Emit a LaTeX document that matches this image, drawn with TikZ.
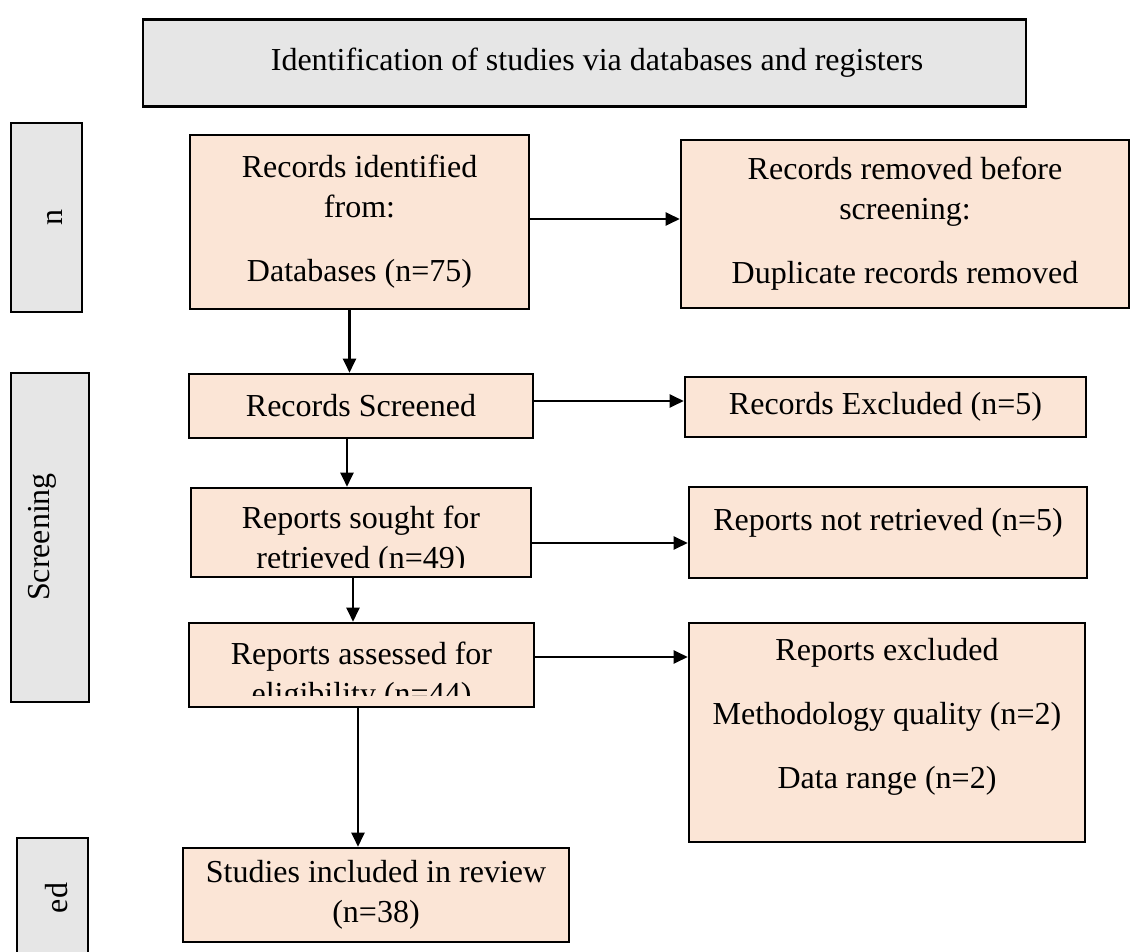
\documentclass[tikz,border=0pt]{standalone}
\usepackage{fontspec}
\setmainfont{Liberation Serif}
\usetikzlibrary{arrows.meta,positioning,calc}

\definecolor{peach}{HTML}{FBE5D6}
\definecolor{sidegrey}{HTML}{E6E6E6}
\newcommand{\prismafont}{\fontsize{16pt}{20pt}\selectfont}
\tikzset{
  box/.style={draw,line width=1.3pt,fill=peach,inner sep=0pt,align=center,font=\prismafont},
  sidebar/.style={draw,line width=1.3pt,fill=sidegrey,inner sep=0pt},
  txt/.style={inner sep=0pt,align=center,font=\prismafont},
  flow/.style={-{Triangle[length=7pt,width=6.5pt]},line width=1.2pt},
}

\begin{document}
\begin{tikzpicture}[x=0.5pt,y=-0.5pt]
\useasboundingbox (0,0) rectangle (1136,952);
% header
\node[sidebar,minimum width=441.5pt,minimum height=43.5pt] (title) at (584.5,63) {};
\node[txt] (titletxt) at (597,63) {Identification of studies via databases and registers};
% side bars
\node[sidebar,minimum width=35.5pt,minimum height=94.5pt] (idbar) at (46.5,217.5) {};
\node[txt,rotate=90] (idbartxt) at (55,218) {n};
\node[sidebar,minimum width=39pt,minimum height=164.5pt] (scbar) at (50,537.5) {};
\node[txt,rotate=90] (scbartxt) at (42,537) {Screening};
\node[sidebar,minimum width=35.5pt,minimum height=70pt] (inbar) at (52.5,908) {};
\node[txt,rotate=90] (inbartxt) at (57,898) {ed};
% main column
\node[box,minimum width=169.5pt,minimum height=87pt] (ident) at (359.5,222)
  {Records identified\\from:\\[12pt]Databases (n=75)};
\node[box,minimum width=172pt,minimum height=32pt] (screened) at (361,406) {Records Screened};
\node[box,minimum width=170pt,minimum height=44.5pt] (sought) at (361,532.5) {};
\begin{scope}
  \clip (191,488) rectangle (531,567);
  \node[txt] (soughttxt) at (361,540.5) {Reports sought for\\retrieved (n=49)};
\end{scope}
\node[box,minimum width=172.5pt,minimum height=42pt] (assessed) at (361.5,665) {};
\begin{scope}
  \clip (189,623) rectangle (534,695);
  \node[txt] (assessedtxt) at (361.5,676.5) {Reports assessed for\\eligibility (n=44)};
\end{scope}
\node[box,minimum width=193pt,minimum height=47pt] (studies) at (376,895)
  {Studies included in review\\(n=38)};
% right column
\node[box,minimum width=224pt,minimum height=84pt] (removed) at (905,224)
  {Records removed before\\screening:\\[12pt]Duplicate records removed};
\node[box,minimum width=200.5pt,minimum height=30pt] (recexcl) at (885.5,407) {Records Excluded (n=5)};
\node[box,minimum width=199pt,minimum height=45.5pt] (notret) at (888,532.5) {};
\node[txt] (notrettxt) at (888,523) {Reports not retrieved (n=5)};
\node[box,minimum width=198pt,minimum height=109.5pt] (repexcl) at (887,732.5) {};
\node[txt] (repexcltxt) at (887,716.5)
  {Reports excluded\\[12pt]Methodology quality (n=2)\\[12pt]Data range (n=2)};
% arrows
\draw[flow] ([yshift=1.5pt]ident.east) -- ([yshift=1.5pt]ident.east -| removed.west);
\draw[flow] ([xshift=-5pt]ident.south) -- ([xshift=-5pt]ident.south |- screened.north);
\draw[flow] ([yshift=2.5pt]screened.east) -- ([yshift=2.5pt]screened.east -| recexcl.west);
\draw[flow] ([xshift=-7pt]screened.south) -- ([xshift=-7pt]screened.south |- sought.north);
\draw[flow] ([yshift=-5.25pt]sought.east) -- ([yshift=-5.25pt]sought.east -| notret.west);
\draw[flow] ([xshift=-4pt]sought.south) -- ([xshift=-4pt]sought.south |- assessed.north);
\draw[flow] ([yshift=4pt]assessed.east) -- ([yshift=4pt]assessed.east -| repexcl.west);
\draw[flow] ([xshift=-1.75pt]assessed.south) -- ([xshift=-1.75pt]assessed.south |- studies.north);
\end{tikzpicture}
\end{document}
